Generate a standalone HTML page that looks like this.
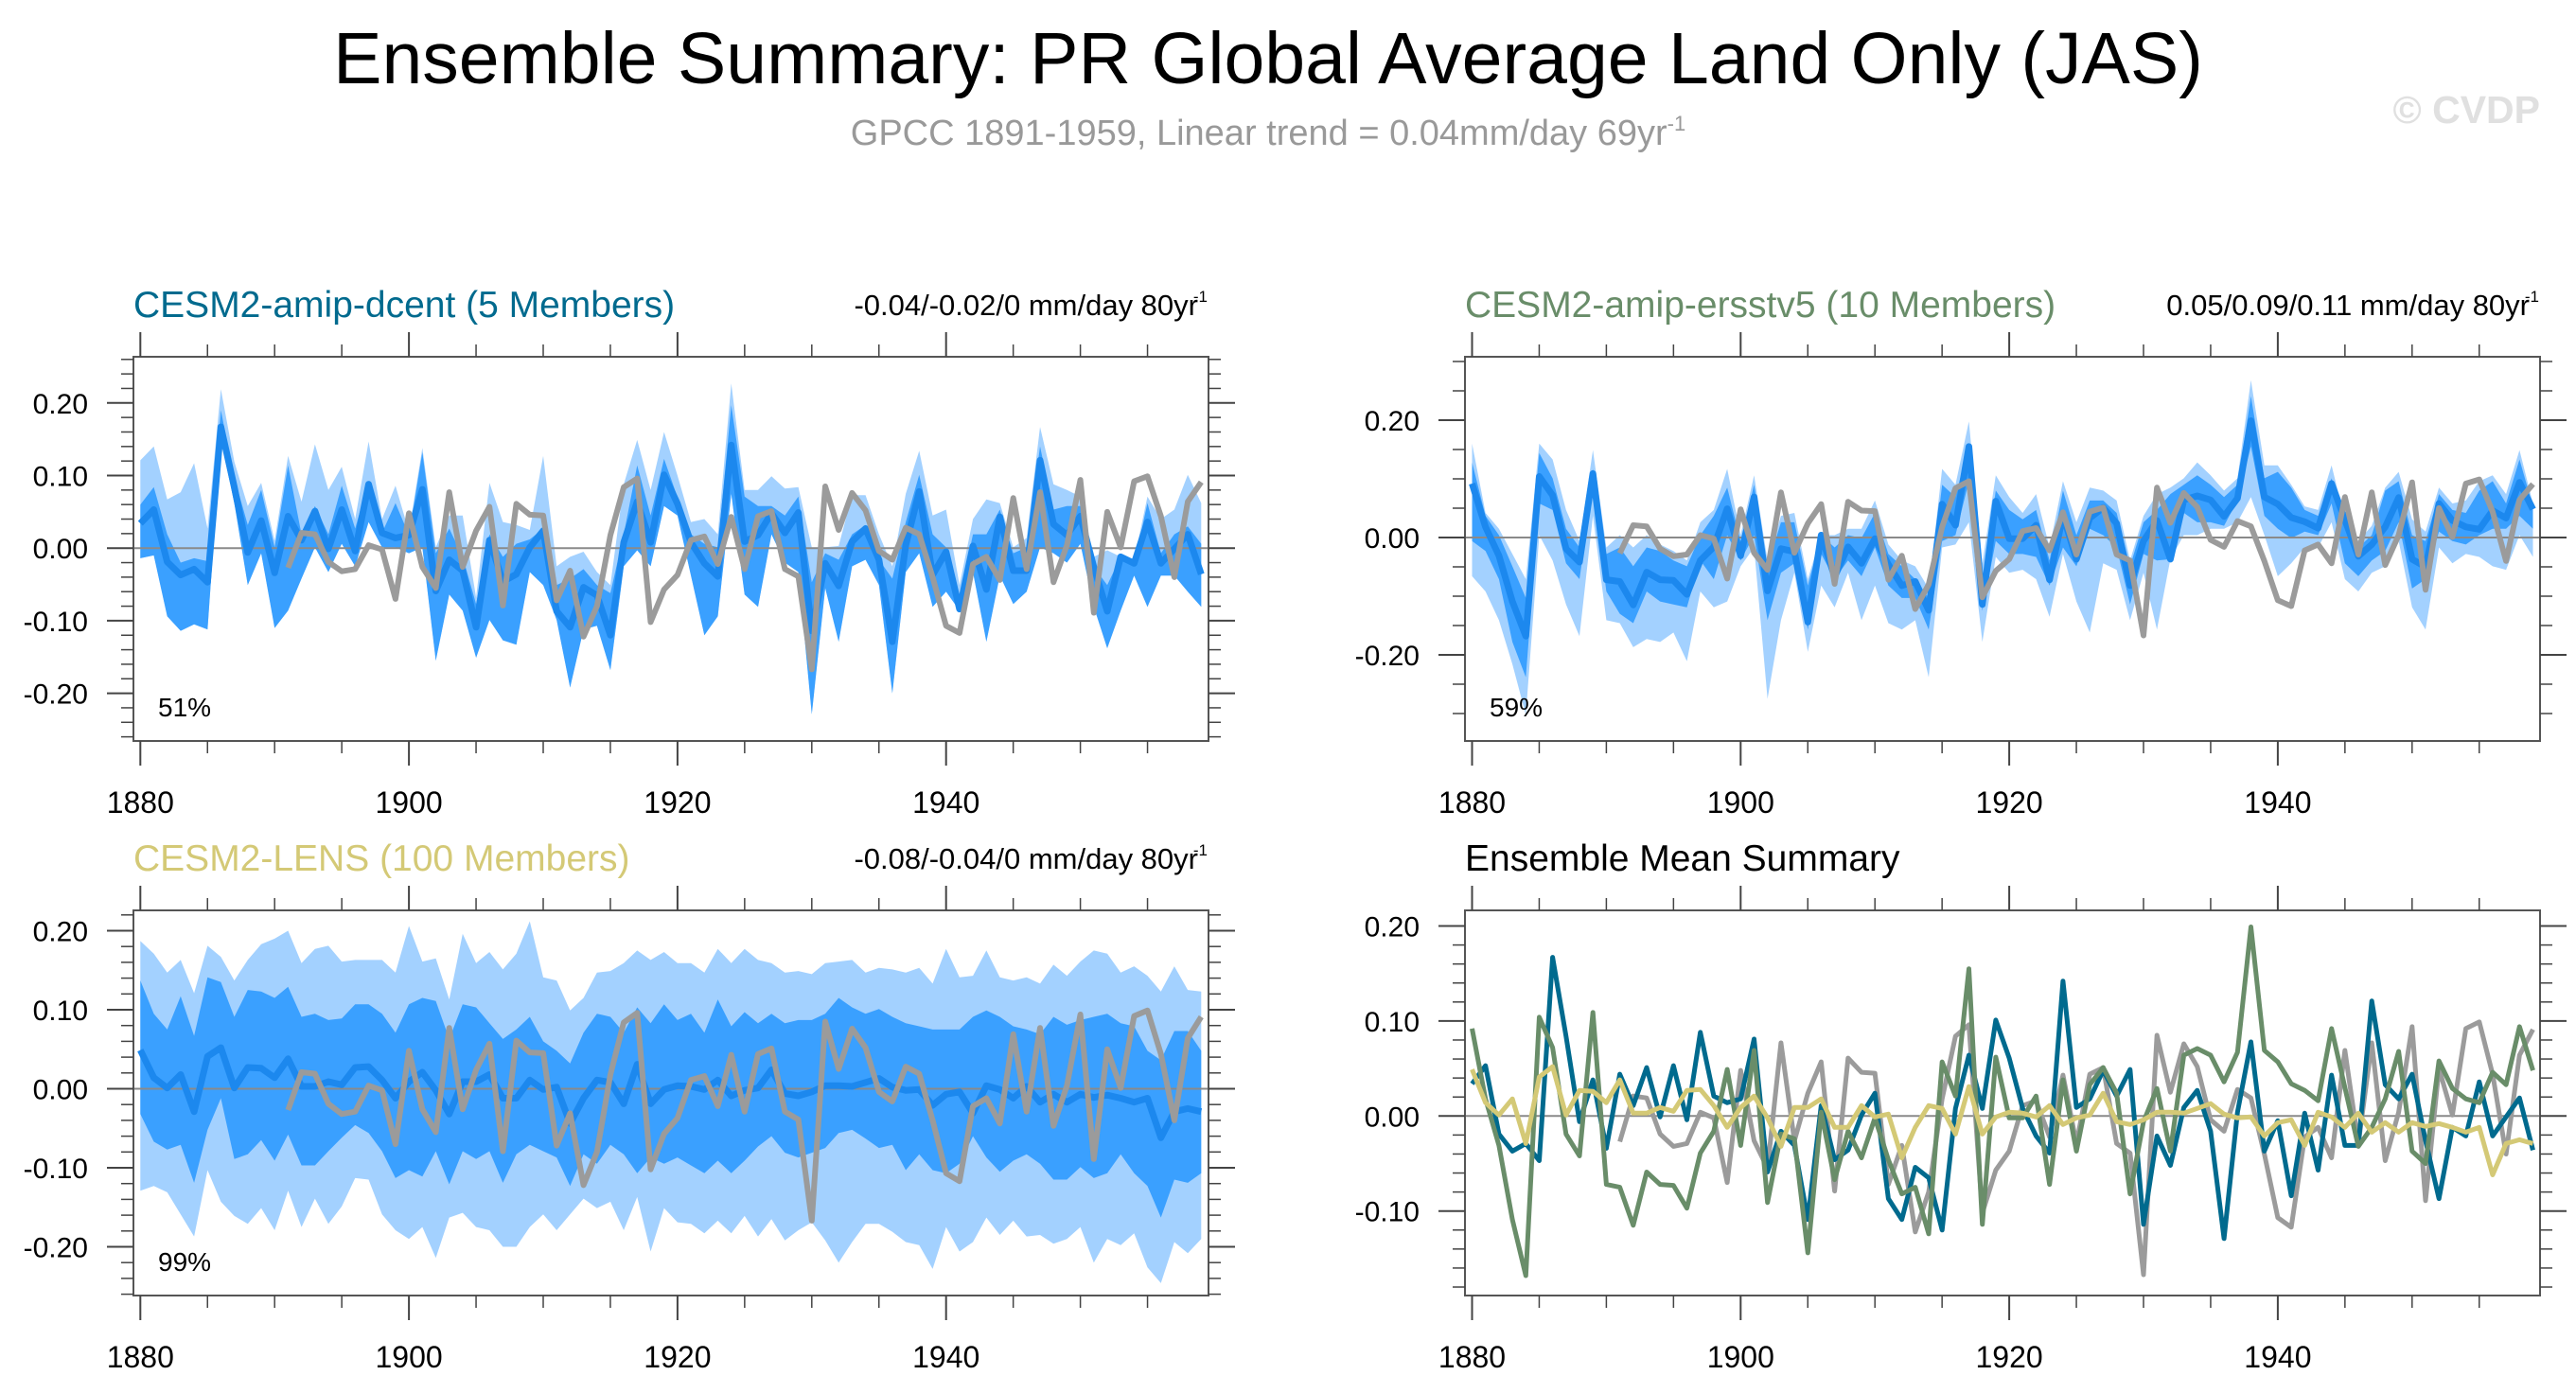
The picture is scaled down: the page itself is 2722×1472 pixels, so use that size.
<!DOCTYPE html>
<html><head><meta charset="utf-8"><style>
html,body{margin:0;padding:0;background:#fff;}
svg{display:block;font-family:"Liberation Sans",sans-serif;}
</style></head><body>
<svg id="chart" width="2722" height="1472" viewBox="0 0 2722 1472" xmlns="http://www.w3.org/2000/svg">
<text x="1340" y="88" font-size="77" text-anchor="middle" fill="#000">Ensemble Summary: PR Global Average Land Only (JAS)</text>
<text x="1340" y="153" font-size="38" text-anchor="middle" fill="#999">GPCC 1891-1959, Linear trend = 0.04mm/day 69yr<tspan dy="-15" font-size="22">-1</tspan></text>
<text x="2684" y="130" font-size="41" font-weight="bold" text-anchor="end" fill="#e0e0e0">© CVDP</text>
<g id="panels"></g>
</svg>
<script>
const startYear = 1880;
const obsStart = 1891;
const teal = [0.034,0.053,-0.019,-0.037,-0.029,-0.047,0.167,0.084,-0.006,0.038,-0.034,0.044,0.011,0.051,-0.001,0.053,-0.004,0.088,0.021,0.014,
0.018,0.081,-0.059,-0.016,-0.031,-0.109,0.011,-0.046,-0.036,0.001,0.024,-0.087,-0.109,-0.054,-0.065,-0.120,0.008,0.064,0.008,0.101,
0.061,0.008,-0.021,-0.039,0.142,0.009,0.018,0.048,0.021,0.049,-0.114,-0.021,-0.052,0.009,0.027,-0.016,-0.129,0.004,0.078,-0.037,
-0.005,-0.084,0.003,-0.057,0.043,-0.031,-0.031,0.121,0.033,0.018,0.044,-0.026,-0.087,-0.012,-0.021,0.036,-0.021,-0.001,0.019,-0.036];
const green = [0.092,0.018,-0.031,-0.109,-0.168,0.104,0.072,-0.019,-0.042,0.109,-0.072,-0.075,-0.115,-0.059,-0.072,-0.073,-0.097,-0.039,-0.016,0.049,
-0.031,0.069,-0.091,-0.019,-0.024,-0.144,0.004,-0.067,-0.016,-0.044,-0.002,-0.046,-0.082,-0.075,-0.124,0.057,0.021,0.155,-0.114,0.062,
-0.002,-0.002,0.021,-0.072,0.038,-0.037,0.033,0.051,0.024,-0.082,-0.006,0.029,-0.037,0.064,0.071,0.064,0.036,0.067,0.199,0.069,
0.057,0.034,0.027,0.016,0.092,0.030,-0.032,-0.012,0.018,0.068,-0.037,-0.050,0.058,0.029,0.018,0.014,0.046,0.033,0.094,0.048];
const yellow = [0.049,0.014,0.001,0.018,-0.029,0.041,0.052,0.001,0.027,0.026,0.014,0.038,0.003,0.003,0.009,0.005,0.027,0.028,0.011,-0.012,
0.009,0.021,-0.002,-0.032,0.009,0.009,0.018,-0.012,-0.012,0.011,-0.001,0.002,-0.044,-0.012,0.011,0.008,-0.019,0.031,-0.019,-0.001,
0.004,0.003,-0.001,0.011,-0.009,-0.002,0.001,0.024,-0.006,-0.009,-0.004,0.004,0.004,0.003,0.008,0.013,0.002,-0.002,-0.001,-0.021,
-0.007,-0.004,-0.031,0.004,-0.001,-0.012,0.003,-0.017,-0.007,-0.017,-0.007,-0.011,-0.008,-0.012,-0.017,-0.012,-0.062,-0.029,-0.025,-0.029];
const obs = [-0.027,0.021,0.019,-0.019,-0.032,-0.029,0.004,-0.002,-0.070,
0.048,-0.026,-0.055,0.077,-0.026,0.024,0.057,-0.079,0.061,0.046,0.045,-0.072,-0.031,-0.122,-0.080,0.018,0.084,0.096,-0.102,-0.057,
-0.037,0.011,0.016,-0.022,0.043,-0.029,0.044,0.051,-0.029,-0.039,-0.167,0.085,0.025,0.076,0.052,-0.004,-0.016,0.028,0.019,-0.040,
-0.107,-0.117,-0.022,-0.012,-0.044,0.069,-0.029,0.077,-0.047,0.004,0.094,-0.089,0.050,0.001,0.092,0.099,0.044,-0.040,0.064,0.091];
const p1LightHi = [0.121,0.140,0.067,0.077,0.117,0.027,0.219,0.119,0.058,0.090,0.010,0.127,0.064,0.143,0.080,0.112,0.040,0.147,0.040,0.086,
0.023,0.138,0.001,0.045,0.045,-0.068,0.090,0.036,0.032,0.025,0.127,-0.025,-0.012,-0.005,-0.033,-0.051,0.088,0.149,0.080,0.160,
0.100,0.036,0.040,0.019,0.227,0.080,0.080,0.099,0.082,0.084,0.001,0.001,0.003,0.073,0.073,0.019,-0.025,0.075,0.134,0.045,
0.053,-0.051,0.040,0.067,0.062,0.001,0.014,0.167,0.088,0.080,0.071,-0.012,-0.003,-0.016,-0.016,0.071,0.040,0.053,0.101,0.062];
const p1DarkHi = [0.060,0.084,0.019,-0.020,-0.014,-0.018,0.190,0.097,0.032,0.080,0.001,0.114,0.019,0.058,0.019,0.086,0.027,0.093,0.019,0.062,
0.014,0.132,-0.007,0.027,-0.012,-0.077,0.019,-0.012,0.006,0.012,0.027,-0.051,-0.042,-0.029,-0.051,-0.062,0.019,0.114,0.045,0.123,
0.070,0.019,0.006,0.001,0.197,0.071,0.058,0.058,0.045,0.071,-0.047,-0.007,-0.016,0.019,0.032,-0.016,-0.042,0.036,0.101,0.019,
0.001,-0.068,0.019,0.019,0.053,-0.007,0.001,0.140,0.053,0.058,0.058,-0.042,-0.051,-0.025,-0.025,0.062,-0.007,0.019,0.030,0.006];
const p1Lo = [-0.014,-0.010,-0.094,-0.114,-0.105,-0.112,0.149,0.062,-0.051,-0.007,-0.110,-0.086,-0.042,0.001,-0.033,0.006,-0.025,0.036,0.001,0.001,
-0.007,0.001,-0.155,-0.064,-0.086,-0.151,-0.099,-0.127,-0.133,-0.033,-0.051,-0.099,-0.192,-0.112,-0.107,-0.168,-0.025,-0.003,-0.025,0.058,
0.045,-0.038,-0.120,-0.094,0.075,-0.064,-0.081,0.019,-0.020,-0.033,-0.229,-0.055,-0.129,-0.025,-0.016,-0.051,-0.200,-0.033,-0.007,-0.081,
-0.060,-0.086,-0.033,-0.129,-0.038,-0.077,-0.060,0.001,-0.007,-0.020,0.006,-0.081,-0.138,-0.086,-0.038,-0.081,-0.038,-0.038,-0.060,-0.081];
const p2LightHi = [0.160,0.042,0.015,-0.028,-0.071,0.160,0.133,0.047,-0.006,0.149,-0.017,0.004,-0.017,0.004,-0.012,-0.023,-0.039,0.026,0.047,0.117,
0.004,0.106,-0.039,0.037,0.042,-0.071,0.004,0.004,0.015,0.015,0.063,-0.012,-0.039,-0.049,-0.087,0.117,0.090,0.198,-0.044,0.106,
0.069,0.042,0.074,-0.017,0.096,0.026,0.085,0.080,0.063,-0.039,0.037,0.074,0.085,0.101,0.128,0.106,0.080,0.101,0.268,0.123,
0.123,0.090,0.053,0.047,0.123,0.031,-0.006,0.020,0.085,0.112,0.031,0.010,0.085,0.058,0.063,0.096,0.106,0.074,0.149,0.058];
const p2DarkHi = [0.128,0.037,0.004,-0.049,-0.103,0.144,0.101,0.015,-0.017,0.117,-0.028,-0.017,-0.049,-0.017,-0.023,-0.039,-0.049,0.004,0.037,0.085,
-0.006,0.090,-0.049,0.026,0.026,-0.082,-0.001,-0.017,0.004,-0.001,0.042,-0.028,-0.049,-0.071,-0.103,0.090,0.069,0.160,-0.082,0.080,
0.047,0.031,0.047,-0.039,0.080,0.004,0.063,0.063,0.042,-0.049,0.026,0.047,0.074,0.090,0.106,0.090,0.069,0.090,0.241,0.101,
0.112,0.085,0.047,0.037,0.101,0.015,-0.017,0.004,0.080,0.096,0.004,-0.006,0.074,0.047,0.042,0.080,0.096,0.058,0.133,0.053];
const p2DarkLo = [-0.006,-0.023,-0.071,-0.178,-0.238,0.058,0.047,-0.044,-0.071,0.085,-0.092,-0.130,-0.146,-0.092,-0.109,-0.114,-0.119,-0.039,-0.071,0.004,
-0.039,0.004,-0.141,-0.060,-0.044,-0.157,-0.028,-0.071,-0.039,-0.066,-0.017,-0.082,-0.103,-0.103,-0.157,-0.006,0.004,0.096,-0.125,-0.006,
-0.028,-0.028,-0.033,-0.082,-0.017,-0.049,0.015,0.004,-0.017,-0.114,-0.028,-0.039,0.042,0.042,0.026,0.026,0.020,0.063,0.155,0.037,
0.015,-0.001,0.010,0.004,0.058,-0.044,-0.066,-0.039,-0.023,0.026,-0.087,-0.071,0.010,-0.006,-0.012,0.004,0.015,0.015,0.037,0.015];
const p2LightLo = [-0.066,-0.092,-0.141,-0.216,-0.302,0.004,-0.039,-0.114,-0.168,0.037,-0.141,-0.146,-0.187,-0.173,-0.178,-0.162,-0.211,-0.092,-0.119,-0.109,
-0.049,-0.017,-0.275,-0.141,-0.060,-0.195,-0.082,-0.119,-0.060,-0.141,-0.082,-0.146,-0.157,-0.141,-0.238,-0.017,-0.012,0.026,-0.178,-0.033,
-0.060,-0.055,-0.071,-0.135,-0.028,-0.109,-0.162,-0.044,-0.055,-0.141,-0.060,-0.157,0.020,0.004,0.004,0.015,0.015,0.026,0.069,0.004,
-0.066,-0.044,-0.017,-0.017,0.026,-0.071,-0.092,-0.060,-0.049,-0.006,-0.119,-0.157,-0.017,-0.044,-0.028,-0.033,-0.049,-0.055,0.004,-0.033];
const p3LightHi = [0.187,0.171,0.147,0.163,0.121,0.181,0.167,0.137,0.163,0.183,0.190,0.200,0.159,0.177,0.181,0.161,0.163,0.163,0.163,0.147,
0.206,0.161,0.165,0.113,0.196,0.159,0.173,0.151,0.171,0.212,0.141,0.137,0.099,0.115,0.147,0.149,0.159,0.175,0.163,0.173,
0.159,0.159,0.147,0.177,0.159,0.177,0.163,0.159,0.147,0.149,0.145,0.159,0.161,0.163,0.147,0.153,0.151,0.147,0.153,0.133,
0.177,0.141,0.143,0.175,0.141,0.137,0.141,0.133,0.157,0.143,0.161,0.175,0.171,0.147,0.155,0.143,0.123,0.155,0.125,0.123];
const p3DarkHi = [0.137,0.095,0.075,0.117,0.067,0.141,0.135,0.091,0.125,0.123,0.115,0.129,0.091,0.095,0.087,0.089,0.107,0.107,0.095,0.071,
0.107,0.115,0.111,0.063,0.107,0.103,0.083,0.063,0.075,0.091,0.060,0.048,0.032,0.071,0.095,0.091,0.071,0.103,0.083,0.107,
0.087,0.095,0.071,0.113,0.079,0.097,0.083,0.095,0.083,0.087,0.087,0.095,0.115,0.103,0.095,0.101,0.091,0.083,0.079,0.075,
0.075,0.075,0.091,0.099,0.091,0.079,0.075,0.069,0.091,0.081,0.087,0.091,0.095,0.083,0.079,0.048,0.036,0.073,0.073,0.048];
const p3DarkLo = [-0.032,-0.067,-0.077,-0.071,-0.119,-0.052,-0.012,-0.089,-0.083,-0.065,-0.091,-0.058,-0.097,-0.097,-0.079,-0.062,-0.046,-0.056,-0.079,-0.113,
-0.103,-0.111,-0.079,-0.121,-0.079,-0.089,-0.079,-0.119,-0.083,-0.071,-0.079,-0.087,-0.123,-0.083,-0.095,-0.071,-0.083,-0.107,-0.087,-0.095,
-0.087,-0.097,-0.107,-0.091,-0.107,-0.091,-0.073,-0.060,-0.081,-0.087,-0.081,-0.075,-0.056,-0.052,-0.063,-0.075,-0.071,-0.103,-0.083,-0.103,
-0.107,-0.095,-0.060,-0.087,-0.105,-0.091,-0.083,-0.095,-0.115,-0.115,-0.099,-0.113,-0.107,-0.083,-0.107,-0.123,-0.163,-0.115,-0.119,-0.107];
const p3LightLo = [-0.129,-0.123,-0.131,-0.159,-0.187,-0.103,-0.143,-0.161,-0.171,-0.151,-0.179,-0.129,-0.175,-0.139,-0.171,-0.149,-0.113,-0.115,-0.159,-0.179,
-0.190,-0.175,-0.214,-0.163,-0.157,-0.175,-0.179,-0.200,-0.200,-0.175,-0.159,-0.179,-0.159,-0.139,-0.151,-0.143,-0.179,-0.137,-0.206,-0.151,
-0.169,-0.171,-0.183,-0.167,-0.183,-0.161,-0.187,-0.165,-0.192,-0.179,-0.169,-0.192,-0.220,-0.194,-0.171,-0.171,-0.181,-0.194,-0.198,-0.228,
-0.175,-0.206,-0.194,-0.163,-0.185,-0.167,-0.187,-0.185,-0.196,-0.190,-0.175,-0.220,-0.190,-0.198,-0.183,-0.226,-0.246,-0.194,-0.208,-0.190];
const xTickLabels = ["1880","1900","1920","1940"];

const NS = "http://www.w3.org/2000/svg";
const root = document.getElementById('panels');
function mk(tag, attrs, parent) {
  const e = document.createElementNS(NS, tag);
  for (const k in attrs) e.setAttribute(k, attrs[k]);
  (parent || root).appendChild(e);
  return e;
}
const C = {light:'#a3d1ff', dark:'#3aa0ff', mean:'#1c88ee', obs:'#9b9b9b', teal:'#006a8e', green:'#698d69', yellow:'#d4c976'};

function makePanel(cfg) {
  const g = mk('g', {});
  
  
  const X = yr => cfg.xA + (yr - startYear) * cfg.dx;
  const Y = v => cfg.zeroY - v * cfg.perUnit;
  cfg.X = X; cfg.Y = Y; cfg.g = g;
  const t = mk('text', {x: cfg.x0, y: cfg.y0 - 42, 'font-size': 39, fill: cfg.titleColor}, g);
  t.textContent = cfg.title;
  
  
  if (cfg.stat) {
    const s = mk('text', {x: cfg.x1 - 11, y: cfg.y0 - 44, 'font-size': 31, fill: '#000', 'text-anchor': 'end'}, g);
    s.textContent = cfg.stat;
    
    
    const sup = mk('text', {x: cfg.x1 - 1, y: cfg.y0 - 58, 'font-size': 17, fill: '#000', 'text-anchor': 'end'}, g);
    sup.textContent = '-1';
    
    
  }
  const cid = 'clip-' + cfg.name;
  const cp = mk('clipPath', {id: cid}, g);
  mk('rect', {x: cfg.x0, y: cfg.y0, width: cfg.x1 - cfg.x0, height: cfg.y1 - cfg.y0}, cp);
  const plot = mk('g', {'clip-path': 'url(#' + cid + ')'}, g);
  
  
  cfg.plot = plot;
  return cfg;
}
function band(cfg, hi, lo, mean, color, name) {
  const pts = [];
  for (let i = 0; i < hi.length; i++) pts.push(cfg.X(startYear + i).toFixed(1) + ',' + cfg.Y(Math.max(hi[i], mean[i])).toFixed(1));
  for (let i = lo.length - 1; i >= 0; i--) pts.push(cfg.X(startYear + i).toFixed(1) + ',' + cfg.Y(Math.min(lo[i], mean[i])).toFixed(1));
  const p = mk('polygon', {points: pts.join(' '), fill: color, stroke: 'none'}, cfg.plot);
  
  
}
function line(cfg, vals, y0, color, w, name) {
  const pts = vals.map((v, i) => cfg.X(y0 + i).toFixed(1) + ',' + cfg.Y(v).toFixed(1));
  const p = mk('polyline', {points: pts.join(' '), fill: 'none', stroke: color, 'stroke-width': w, 'stroke-linejoin': 'round'}, cfg.plot);
  
  
}
function zero(cfg) {
  const z = mk('line', {x1: cfg.x0, x2: cfg.x1, y1: cfg.Y(0), y2: cfg.Y(0), stroke: '#8a8a8a', 'stroke-width': 2}, cfg.plot);
  
  
}
function axes(cfg) {
  const g = cfg.g;
  const frame = mk('rect', {x: cfg.x0, y: cfg.y0, width: cfg.x1 - cfg.x0, height: cfg.y1 - cfg.y0, fill: 'none', stroke: '#555', 'stroke-width': 2}, g);
  
  
  for (let yr = 1880; yr <= 1959; yr += 5) {
    const x = cfg.X(yr), major = (yr % 20 === 0), L = major ? 26 : 13;
    mk('line', {x1: x, x2: x, y1: cfg.y1, y2: cfg.y1 + L, stroke: '#444', 'stroke-width': major ? 2 : 1.5}, g);
    mk('line', {x1: x, x2: x, y1: cfg.y0, y2: cfg.y0 - L, stroke: '#444', 'stroke-width': major ? 2 : 1.5}, g);
  }
  xTickLabels.forEach(lab => {
    const t = mk('text', {x: cfg.X(+lab), y: cfg.y1 + 76, 'font-size': 32, 'text-anchor': 'middle', fill: '#000'}, g);
    t.textContent = lab;
    
    
  });
  const vTop = (cfg.zeroY - cfg.y0) / cfg.perUnit, vBot = (cfg.zeroY - cfg.y1) / cfg.perUnit;
  for (let k = Math.ceil(vBot / cfg.minor - 1e-6); k * cfg.minor <= vTop + 1e-9; k++) {
    const v = k * cfg.minor, y = cfg.Y(v);
    const major = Math.abs(v / cfg.major - Math.round(v / cfg.major)) < 1e-6, L = major ? 28 : 13;
    mk('line', {x1: cfg.x0, x2: cfg.x0 - L, y1: y, y2: y, stroke: '#444', 'stroke-width': major ? 2 : 1.5}, g);
    mk('line', {x1: cfg.x1, x2: cfg.x1 + L, y1: y, y2: y, stroke: '#444', 'stroke-width': major ? 2 : 1.5}, g);
  }
  cfg.yLabels.forEach(v => {
    const t = mk('text', {x: cfg.x0 - 48, y: cfg.Y(v) + 11, 'font-size': 30, 'text-anchor': 'end', fill: '#000'}, g);
    t.textContent = v.toFixed(2);
    
    
  });
  if (cfg.pct) {
    const t = mk('text', {x: cfg.x0 + 26, y: cfg.y1 - 26, 'font-size': 28, fill: '#000'}, g);
    t.textContent = cfg.pct;
    
    
  }
}

const p1 = makePanel({name:'panel-cesm2-amip-dcent', x0:141, x1:1277, y0:377, y1:783, xA:148.3, dx:14.19, zeroY:579.2, perUnit:767,
  major:0.1, minor:0.02, yLabels:[0.2,0.1,0,-0.1,-0.2], title:'CESM2-amip-dcent (5 Members)', titleColor:'#006a8e', stat:'-0.04/-0.02/0 mm/day 80yr', pct:'51%'});
band(p1, p1LightHi, p1Lo, teal, C.light, 'range-band-light');
band(p1, p1DarkHi, p1Lo, teal, C.dark, 'range-band-dark');
zero(p1);
line(p1, teal, startYear, C.mean, 7, 'ensemble-mean-line');
line(p1, obs, obsStart, C.obs, 6, 'observed-gpcc-line');
axes(p1);

const p2 = makePanel({name:'panel-cesm2-amip-ersstv5', x0:1548, x1:2684, y0:377, y1:783, xA:1555.5, dx:14.19, zeroY:568, perUnit:620,
  major:0.2, minor:0.05, yLabels:[0.2,0,-0.2], title:'CESM2-amip-ersstv5 (10 Members)', titleColor:'#698d69', stat:'0.05/0.09/0.11 mm/day 80yr', pct:'59%'});
band(p2, p2LightHi, p2LightLo, green, C.light, 'range-band-light');
band(p2, p2DarkHi, p2DarkLo, green, C.dark, 'range-band-dark');
zero(p2);
line(p2, green, startYear, C.mean, 7, 'ensemble-mean-line');
line(p2, obs, obsStart, C.obs, 6, 'observed-gpcc-line');
axes(p2);

const p3 = makePanel({name:'panel-cesm2-lens', x0:141, x1:1277, y0:962, y1:1369, xA:148.3, dx:14.19, zeroY:1150.5, perUnit:835,
  major:0.1, minor:0.02, yLabels:[0.2,0.1,0,-0.1,-0.2], title:'CESM2-LENS (100 Members)', titleColor:'#d4c976', stat:'-0.08/-0.04/0 mm/day 80yr', pct:'99%'});
band(p3, p3LightHi, p3LightLo, yellow, C.light, 'range-band-light');
band(p3, p3DarkHi, p3DarkLo, yellow, C.dark, 'range-band-dark');
zero(p3);
line(p3, yellow, startYear, C.mean, 7, 'ensemble-mean-line');
line(p3, obs, obsStart, C.obs, 6, 'observed-gpcc-line');
axes(p3);

const p4 = makePanel({name:'panel-ensemble-mean-summary', x0:1548, x1:2684, y0:962, y1:1369, xA:1555.5, dx:14.19, zeroY:1179.3, perUnit:1004,
  major:0.1, minor:0.02, yLabels:[0.2,0.1,0,-0.1], title:'Ensemble Mean Summary', titleColor:'#000', stat:null, pct:null});
zero(p4);
line(p4, obs, obsStart, C.obs, 5, 'observed-gpcc-line');
line(p4, teal, startYear, C.teal, 5, 'amip-dcent-mean-line');
line(p4, green, startYear, C.green, 5, 'amip-ersstv5-mean-line');
line(p4, yellow, startYear, C.yellow, 5, 'lens-mean-line');
axes(p4);
</script>
</body></html>
